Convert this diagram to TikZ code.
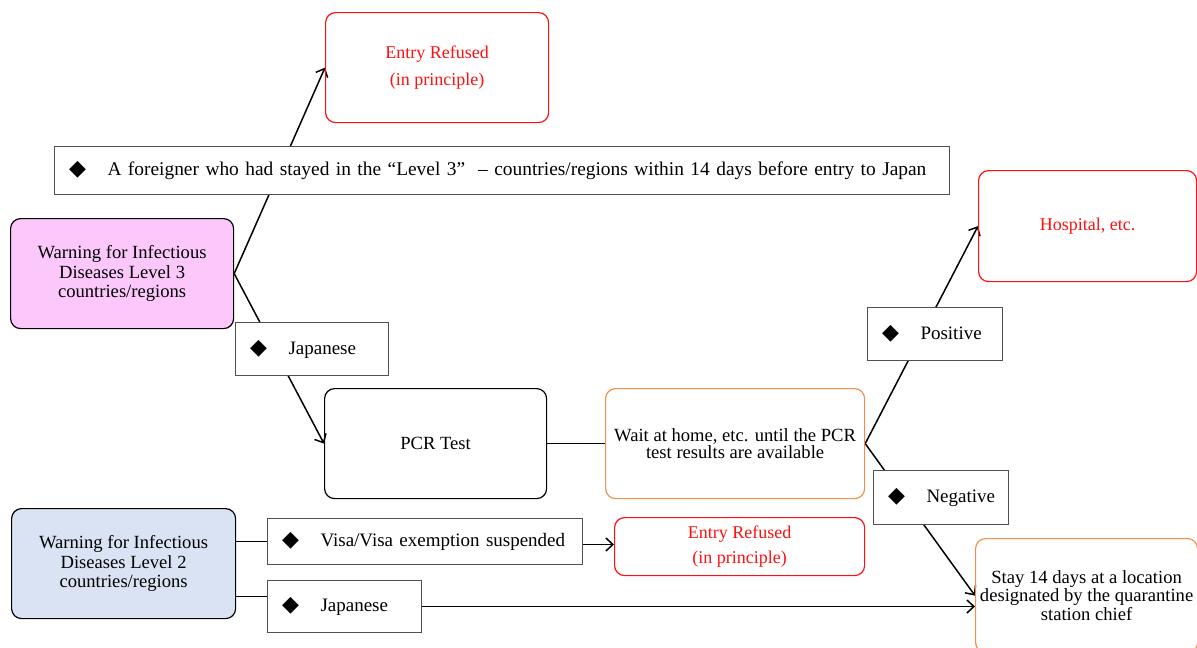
\documentclass[tikz,border=0pt]{standalone}
\usepackage{fontspec}
\setmainfont{Liberation Serif}
\newfontfamily\dejavu{DejaVu Sans}
\usetikzlibrary{arrows.meta,backgrounds}
\definecolor{myred}{HTML}{FF1010}
\definecolor{myorange}{HTML}{F0904E}
\definecolor{mypink}{HTML}{FCC8FC}
\definecolor{myblue}{HTML}{DAE3F3}
\definecolor{lgray}{HTML}{505050}
\newcommand{\dia}{{\dejavu\fontsize{22}{22}\selectfont ◆}}
\newcommand{\lab}[1]{\hspace*{23pt}\makebox[0pt]{\dia}\hspace{30pt}#1}
\begin{document}
\begin{tikzpicture}[x=1pt,y=-1pt,
  base/.style={anchor=north west, inner sep=0pt, font=\fontsize{18.6}{19.5}\selectfont, align=center},
  rbox/.style={base, draw, rounded corners=10pt, line width=1.2pt},
  redbox/.style={rbox, draw=myred, text=myred, font=\fontsize{18}{19.5}\selectfont},
  orbox/.style={rbox, draw=myorange},
  lbox/.style={base, draw=lgray, fill=white, line width=1pt, align=left, font=\fontsize{19}{19.5}\selectfont},
  conn/.style={line width=1.5pt},
  arr/.style={conn, -{Straight Barb[length=7pt,width=13pt]}}
]
\useasboundingbox (0,0) rectangle (1197,648);

\node[redbox, minimum width=223pt, minimum height=110pt] (entry1) at (325,12) {Entry Refused\\[7pt](in principle)};
\node[lbox, text width=895pt, minimum height=48pt, font=\fontsize{19.4}{19.5}\selectfont] (foreign) at (54,146) {\lab{A foreigner who had stayed in the “Level 3”\ \ – countries/regions within 14 days before entry to Japan}};
\node[rbox, fill=mypink, minimum width=223pt, minimum height=110pt] (lvl3) at (10,218) {Warning for Infectious\\Diseases Level 3\\countries/regions};
\node[lbox, text width=153pt, minimum height=53pt] (jap1) at (235,322) {\lab{Japanese}};
\node[rbox, minimum width=222pt, minimum height=110pt] (pcr) at (324,388) {PCR Test};
\node[orbox, minimum width=259pt, minimum height=110pt, font=\fontsize{18.6}{17.5}\selectfont] (wait) at (605,388) {Wait at home, etc. until the PCR\\test results are available};
\node[redbox, minimum width=218pt, minimum height=111pt] (hosp) at (978,170) {Hospital, etc.};
\node[lbox, text width=135pt, minimum height=53pt] (pos) at (867,307) {\lab{Positive}};
\node[lbox, text width=135pt, minimum height=54pt] (neg) at (873,470) {\lab{Negative}};
\node[orbox, minimum width=222pt, minimum height=114pt, font=\fontsize{18.6}{18.5}\selectfont] (stay) at (975,538) {Stay 14 days at a location\\designated by the quarantine\\station chief};
\node[rbox, fill=myblue, minimum width=224pt, minimum height=110pt] (lvl2) at (11,508) {Warning for Infectious\\Diseases Level 2\\countries/regions};
\node[lbox, text width=315pt, minimum height=46pt] (visa) at (267,518) {\lab{Visa/Visa exemption suspended}};
\node[redbox, minimum width=250pt, minimum height=58pt] (entry2) at (614,517) {Entry Refused\\[6pt](in principle)};
\node[lbox, text width=154pt, minimum height=52pt] (jap2) at (267,580) {\lab{Japanese}};

\begin{pgfonlayer}{background}
\draw[arr] (lvl3.east) -- (entry1.west);
\draw[arr] (lvl3.east) -- (pcr.west);
\draw[conn] (pcr.east) -- (wait.west);
\draw[arr] (wait.east) -- (hosp.west);
\draw[arr] (wait.east) -- (stay.west);
\draw[conn] (lvl2.east |- visa.west) -- (visa.west);
\coordinate (vout) at ([yshift=-3pt]visa.east);
\draw[arr] (vout) -- (vout -| entry2.west);
\coordinate (j2in) at ([yshift=10pt]jap2.west);
\draw[conn] (lvl2.east |- j2in) -- (j2in);
\draw[arr] (jap2.east) -- (jap2.east -| stay.west);
\end{pgfonlayer}
\end{tikzpicture}
\end{document}
